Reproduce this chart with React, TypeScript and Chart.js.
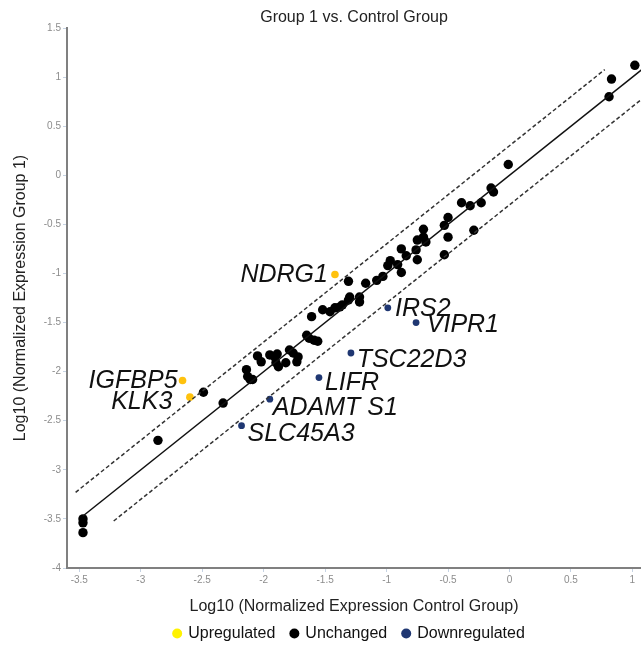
import { useEffect, useRef } from 'react';
import { Chart, registerables } from 'chart.js';

Chart.register(...registerables);

// ---- data (log10 normalized expression) ----
const xTickValues = [-3.5, -3, -2.5, -2, -1.5, -1, -0.5, 0, 0.5, 1];

const unchangedX = [
  -3.47, -3.47, -3.47, -2.86, -2.49, -2.33, -2.14, -2.13, -2.11, -2.09,
  -2.05, -2.02, -1.95, -1.91, -1.89, -1.9, -1.88, -1.82, -1.79, -1.76,
  -1.73, -1.72, -1.65, -1.63, -1.59, -1.56, -1.61, -1.52, -1.46, -1.42,
  -1.38, -1.36, -1.31, -1.3, -1.22, -1.22, -1.31, -1.17, -1.08, -1.03,
  -0.99, -0.97, -0.91, -0.88, -0.88, -0.84, -0.75, -0.75, -0.7, -0.7,
  -0.68, -0.76, -0.53, -0.53, -0.5, -0.5, -0.39, -0.32, -0.29, -0.23,
  -0.15, -0.13, -0.01, 0.81, 0.83, 1.02,
];
const unchangedY = [
  -3.5, -3.54, -3.64, -2.7, -2.21, -2.32, -1.98, -2.05, -2.08, -2.08,
  -1.84, -1.9, -1.83, -1.85, -1.82, -1.91, -1.95, -1.91, -1.78, -1.81,
  -1.9, -1.85, -1.63, -1.66, -1.68, -1.69, -1.44, -1.37, -1.39, -1.35,
  -1.34, -1.32, -1.27, -1.24, -1.24, -1.29, -1.08, -1.1, -1.07, -1.03,
  -0.92, -0.87, -0.91, -0.99, -0.75, -0.82, -0.66, -0.86, -0.55, -0.63,
  -0.68, -0.76, -0.51, -0.81, -0.43, -0.63, -0.28, -0.31, -0.56, -0.28,
  -0.13, -0.17, 0.11, 0.8, 0.98, 1.12,
];

const upGenes = ['IGFBP5', 'KLK3', 'NDRG1'];
const upX = [-2.66, -2.6, -1.42];
const upY = [-2.09, -2.26, -1.01];

const downGenes = ['SLC45A3', 'ADAMT S1', 'LIFR', 'TSC22D3', 'IRS2', 'VIPR1'];
const downX = [-2.18, -1.95, -1.55, -1.29, -0.99, -0.76];
const downY = [-2.55, -2.28, -2.06, -1.81, -1.35, -1.5];

// reference lines: identity and +/- 2-fold
const identityX = [-3.47, 1.2];
const identityY = [-3.47, 1.2];
const upperX = [-3.53, 0.775];
const upperY = [-3.229, 1.076];
const lowerX = [-3.22, 1.2];
const lowerY = [-3.521, 0.899];

const legendNames = ['Upregulated', 'Unchanged', 'Downregulated'];

// ---- styles ----
const FONT = '"Liberation Sans", Arial, sans-serif';
const UP_COLOR = '#FFC20E';
const DOWN_COLOR = '#1F3772';
const legendColors = ['#FFF200', '#000000', '#1F3772'];

const labelStyle: Record<string, { align: CanvasTextAlign; dx: number; dy: number }> = {
  IGFBP5: { align: 'right', dx: -5, dy: -1.5 },
  KLK3: { align: 'right', dx: -17.6, dy: 3 },
  NDRG1: { align: 'right', dx: -7, dy: -1 },
  SLC45A3: { align: 'left', dx: 6, dy: 6 },
  'ADAMT S1': { align: 'left', dx: 3, dy: 6.6 },
  LIFR: { align: 'left', dx: 6, dy: 3 },
  TSC22D3: { align: 'left', dx: 5.7, dy: 4.8 },
  IRS2: { align: 'left', dx: 7.3, dy: -1 },
  VIPR1: { align: 'left', dx: 10.7, dy: 0 },
};

const toPoints = (xs: number[], ys: number[]) => xs.map((x, i) => ({ x, y: ys[i] }));

const geneLabelPlugin = {
  id: 'geneLabels',
  afterDatasetsDraw(chart: any) {
    const ctx = chart.ctx as CanvasRenderingContext2D;
    ctx.save();
    ctx.font = `italic 25px ${FONT}`;
    ctx.fillStyle = '#111111';
    ctx.textBaseline = 'alphabetic';
    const groups: [number, string[]][] = [
      [4, upGenes],
      [5, downGenes],
    ];
    groups.forEach(([di, names]) => {
      const meta = chart.getDatasetMeta(di);
      meta.data.forEach((el: any, j: number) => {
        const st = labelStyle[names[j]];
        ctx.textAlign = st.align;
        ctx.fillText(names[j], el.x + st.dx, el.y + st.dy + 9);
      });
    });
    ctx.restore();
  },
};

const legendPlugin = {
  id: 'bottomLegend',
  afterDraw(chart: any) {
    const ctx = chart.ctx as CanvasRenderingContext2D;
    const area = chart.chartArea;
    ctx.save();
    ctx.font = `16px ${FONT}`;
    ctx.textBaseline = 'middle';
    ctx.textAlign = 'left';
    const r = 5;
    const dotToText = 11;
    const itemGap = 19;
    const widths = legendNames.map((n) => ctx.measureText(n).width);
    let total = r;
    widths.forEach((w, i) => {
      total += dotToText + w + (i < widths.length - 1 ? itemGap : 0);
    });
    const center = (area.left + area.right) / 2 - 5.5;
    let x = center - total / 2 + r;
    const y = chart.height - 11.5;
    legendNames.forEach((n, i) => {
      ctx.beginPath();
      ctx.fillStyle = legendColors[i];
      ctx.arc(x, y, r, 0, Math.PI * 2);
      ctx.fill();
      ctx.fillStyle = '#111111';
      ctx.fillText(n, x + dotToText, y + 0.5);
      x += dotToText + widths[i] + itemGap;
    });
    ctx.restore();
  },
};

export default function App() {
  const ref = useRef<HTMLCanvasElement | null>(null);

  useEffect(() => {
    document.body.style.margin = '0';
    const canvas = ref.current;
    if (!canvas) return;

    const tickFont = { family: FONT, size: 10 };
    const titleFont = { family: FONT, size: 16 };

    const chart = new Chart(canvas, {
      type: 'scatter',
      data: {
        datasets: [
          {
            label: 'identity',
            data: toPoints(identityX, identityY),
            showLine: true,
            borderColor: '#111111',
            borderWidth: 1.5,
            pointRadius: 0,
          } as any,
          {
            label: 'upper',
            data: toPoints(upperX, upperY),
            showLine: true,
            borderColor: '#333333',
            borderWidth: 1.5,
            borderDash: [4, 2.5],
            pointRadius: 0,
          } as any,
          {
            label: 'lower',
            data: toPoints(lowerX, lowerY),
            showLine: true,
            borderColor: '#333333',
            borderWidth: 1.5,
            borderDash: [4, 2.5],
            pointRadius: 0,
          } as any,
          {
            label: legendNames[1],
            data: toPoints(unchangedX, unchangedY),
            backgroundColor: '#000000',
            borderWidth: 0,
            pointRadius: 4.7,
          },
          {
            label: legendNames[0],
            data: toPoints(upX, upY),
            backgroundColor: UP_COLOR,
            borderWidth: 0,
            pointRadius: 3.8,
          },
          {
            label: legendNames[2],
            data: toPoints(downX, downY),
            backgroundColor: DOWN_COLOR,
            borderWidth: 0,
            pointRadius: 3.4,
          },
        ],
      },
      options: {
        animation: false,
        responsive: false,
        maintainAspectRatio: false,
        events: [],
        layout: { autoPadding: false, padding: { left: 0, right: 0, top: 0, bottom: 24 } },
        plugins: {
          legend: { display: false },
          tooltip: { enabled: false },
          title: {
            display: true,
            text: 'Group 1 vs. Control Group',
            fullSize: false,
            color: '#222222',
            font: { ...titleFont, weight: 'normal', lineHeight: 1 },
            padding: { top: 10, bottom: 2 },
          },
        },
        scales: {
          x: {
            type: 'linear',
            min: -3.6,
            max: 1.07,
            afterBuildTicks: (s: any) => {
              s.ticks = xTickValues.map((v) => ({ value: v }));
            },
            afterFit: (s: any) => {
              s.height = 53;
            },
            ticks: {
              font: tickFont,
              color: '#8c8c8c',
              padding: 2,
              maxRotation: 0,
              autoSkip: false,
              callback: (v: any) => String(v),
            },
            grid: { drawOnChartArea: false, drawTicks: true, tickLength: 4, color: '#c6d3e3' },
            border: { display: true, color: '#808080', width: 2 },
            title: {
              display: true,
              text: 'Log10 (Normalized Expression Control Group)',
              color: '#222222',
              font: titleFont,
              padding: { top: 11.4, bottom: 4.4 },
            },
          },
          y: {
            type: 'linear',
            min: -4,
            max: 1.5,
            afterFit: (s: any) => {
              s.width = 67;
            },
            ticks: {
              stepSize: 0.5,
              font: tickFont,
              color: '#8c8c8c',
              padding: 2,
              callback: (v: any) => String(v),
            },
            grid: { drawOnChartArea: false, drawTicks: true, tickLength: 4, color: '#c6d3e3' },
            border: { display: true, color: '#808080', width: 2 },
            title: {
              display: true,
              text: 'Log10 (Normalized Expression Group 1)',
              color: '#222222',
              font: titleFont,
              padding: { top: 11, bottom: 0 },
            },
          },
        },
      },
      plugins: [geneLabelPlugin, legendPlugin],
    });

    return () => chart.destroy();
  }, []);

  return (
    <div style={{ width: 641, height: 645 }}>
      <canvas ref={ref} width={641} height={645} style={{ display: 'block' }} />
    </div>
  );
}
